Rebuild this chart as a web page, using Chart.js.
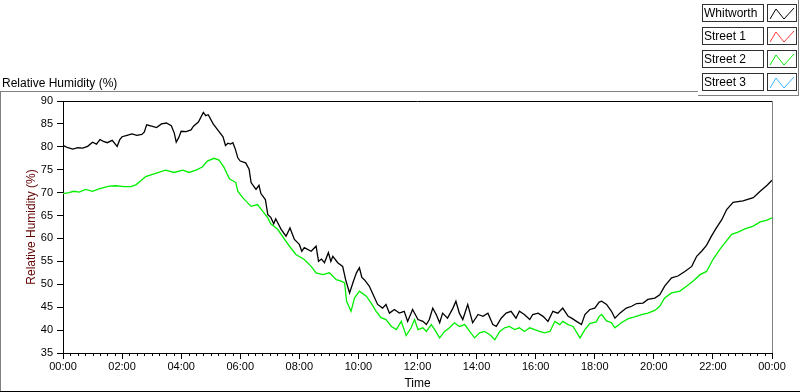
<!DOCTYPE html>
<html>
<head>
<meta charset="utf-8">
<script src="https://cdn.jsdelivr.net/npm/chart.js@4.4.0/dist/chart.umd.min.js"></script>
<style>
  body { margin: 0; background: #fff; font-family: "Liberation Sans", Arial, sans-serif; }
  #wrap { position: relative; width: 800px; height: 392px; overflow: hidden; }
  #chart { position: absolute; left: 0; top: 0; }
  .frame-top { position: absolute; left: 0; top: 91px; width: 698px; height: 1px; background: #808080; }
  .frame-left { position: absolute; left: 0; top: 91px; width: 1px; height: 301px; background: #808080; }
  .frame-bottom { position: absolute; left: 0; top: 391px; width: 800px; height: 1px; background: #000; }
  #plotTitle { position: absolute; left: 2px; top: 76px; font-size: 12px; color: #000; }
  #legend { position: absolute; left: 698px; top: 0; width: 100px; height: 95px;
            border-right: 1px solid #808080; border-bottom: 1px solid #808080; }
  .row { position: absolute; left: 4px; width: 95px; height: 18px; }
  .name { position: absolute; left: 0; top: 0; width: 59px; height: 16px; padding-left: 1px;
          border: 1px solid #303030; font-size: 12px; line-height: 16px; white-space: nowrap; overflow: hidden; }
  .swatch { position: absolute; left: 65px; top: 0; width: 28px; height: 16px; border: 1px solid #303030; }
</style>
</head>
<body>
<div id="wrap">
  <canvas id="chart" width="800" height="392"></canvas>
  <div class="frame-top"></div>
  <div class="frame-left"></div>
  <div class="frame-bottom"></div>
  <div id="plotTitle">Relative Humidity (%)</div>
  <div id="legend"></div>
</div>
<script>
// series names and colours
const seriesNames = ['Whitworth', 'Street 1', 'Street 2', 'Street 3'];
const seriesColors = ['#000000', '#ff3c3c', '#00ee00', '#3cb4ff'];

// y ticks / x ticks
const yTicks = [35, 40, 45, 50, 55, 60, 65, 70, 75, 80, 85, 90];
const xTickHours = ['00:00', '02:00', '04:00', '06:00', '08:00', '10:00', '12:00',
                    '14:00', '16:00', '18:00', '20:00', '22:00', '00:00'];

// Whitworth (black)
const whitworthTime = ['00:00','00:10','00:20','00:30','00:40','00:50','01:00','01:08','01:15','01:22',
  '01:30','01:40','01:50','01:55','02:00','02:10','02:20','02:30','02:40','02:45','02:50','03:00','03:10',
  '03:20','03:30','03:40','03:46','03:50','03:55','04:00','04:10','04:20','04:25','04:35','04:45','04:50',
  '04:55','05:05','05:15','05:25','05:30','05:35','05:40','05:45','05:50','05:55','06:00','06:11','06:18',
  '06:22','06:32','06:38','06:42','06:51','06:56','07:02','07:08','07:12','07:23','07:33','07:41','07:50',
  '08:00','08:05','08:10','08:24','08:34','08:39','08:45','08:51','08:59','09:04','09:08','09:18','09:28',
  '09:34','09:42','09:50','09:56','10:02','10:07','10:12','10:22','10:30','10:39','10:49','10:56','11:03',
  '11:13','11:23','11:33','11:40','11:50','12:01','12:11','12:18','12:24','12:31','12:38','12:45','12:51',
  '13:01','13:12','13:18','13:25','13:32','13:42','13:52','14:03','14:13','14:23','14:33','14:40','14:50',
  '15:00','15:10','15:20','15:27','15:37','15:48','15:54','16:05','16:15','16:25','16:35','16:45','16:55',
  '17:06','17:13','17:23','17:33','17:40','17:50','18:00','18:09','18:14','18:24','18:34','18:41','18:51',
  '19:04','19:15','19:25','19:38','19:48','20:02','20:12','20:22','20:36','20:49','21:03','21:17','21:27',
  '21:37','21:47','21:57','22:07','22:18','22:28','22:41','23:01','23:22','23:36','23:50','24:00'];
const whitworthRH = [80.3,79.8,79.5,79.8,79.7,80.1,81.0,80.6,81.6,81.2,
  80.9,81.4,80.1,81.5,82.2,82.5,82.8,82.5,82.7,83.2,84.8,84.5,84.2,
  85.0,85.2,84.6,83.0,81.0,82.0,83.4,83.3,83.7,84.5,85.4,87.5,86.8,
  87.0,85.0,83.6,82.2,80.3,80.8,80.6,80.9,79.5,77.6,76.9,76.5,75.1,
  72.2,70.7,71.6,69.8,68.5,65.2,64.6,63.2,64.3,62.0,60.5,62.3,59.8,
  58.7,57.2,58.0,57.2,58.3,55.0,55.5,54.7,56.9,55.0,56.1,54.7,53.9,
  51.0,48.1,50.7,52.5,53.6,51.5,51.0,49.6,47.7,45.6,44.8,45.6,43.7,
  44.5,43.7,44.1,41.9,44.5,42.3,41.9,41.2,42.3,44.8,43.4,41.6,43.7,
  42.6,44.8,46.3,43.7,42.3,45.6,41.6,43.4,43.0,43.7,41.2,40.8,42.6,
  43.7,44.1,42.6,44.1,43.4,42.3,43.4,43.7,43.0,41.9,44.1,43.7,44.8,
  43.0,42.6,41.9,41.2,43.4,44.5,44.8,46.1,46.3,45.6,44.1,42.6,43.7,
  44.8,45.2,45.8,45.9,46.7,47.0,47.7,49.6,51.4,51.8,52.8,53.9,56.1,
  57.2,58.5,60.5,62.3,64.1,66.3,67.9,68.2,68.9,70.3,71.6,72.7];

// Street 2 (green)
const street2Time = ['00:00','00:12','00:22','00:33','00:46','01:00','01:13','01:34','01:47','02:04',
  '02:18','02:28','02:38','02:48','03:08','03:28','03:46','04:03','04:16','04:30','04:43','04:53','05:07',
  '05:17','05:27','05:38','05:51','05:55','06:05','06:22','06:35','06:45','06:56','07:02','07:16','07:30',
  '07:40','07:53','08:10','08:24','08:34','08:48','09:01','09:15','09:25','09:32','09:36','09:45','09:52',
  '10:02','10:16','10:26','10:36','10:46','10:56','11:07','11:17','11:27','11:37','11:47','11:54','12:01',
  '12:11','12:18','12:28','12:35','12:45','12:55','13:05','13:15','13:25','13:36','13:46','13:56','14:06',
  '14:16','14:27','14:37','14:47','14:57','15:07','15:17','15:27','15:37','15:48','15:58','16:08','16:18',
  '16:29','16:39','16:49','16:55','17:06','17:16','17:30','17:40','17:50','18:03','18:09','18:14','18:24',
  '18:34','18:41','18:54','19:08','19:21','19:35','19:48','20:02','20:12','20:22','20:36','20:53','21:07',
  '21:20','21:34','21:47','22:00','22:14','22:24','22:38','22:51','23:05','23:22','23:36','23:50','24:00'];
const street2RH = [69.8,70.0,70.3,70.1,70.7,70.3,70.8,71.4,71.5,71.3,
  71.3,71.7,72.6,73.5,74.2,74.9,74.4,74.9,74.4,74.9,75.6,76.9,77.5,
  77.1,75.5,73.0,72.2,70.3,68.9,67.0,67.4,66.0,64.5,63.2,62.0,59.8,
  58.3,56.5,55.4,53.9,52.5,52.1,52.5,51.0,50.7,50.3,46.3,44.1,47.0,
  48.5,47.4,45.9,44.1,42.7,42.3,40.8,40.1,41.9,38.8,40.5,42.3,40.1,
  40.5,39.7,41.2,40.1,38.3,39.7,40.5,41.6,40.8,41.2,39.7,38.3,39.4,
  39.7,39.0,37.9,39.7,40.5,40.8,40.1,40.5,39.7,40.5,40.1,39.7,39.4,
  39.7,41.9,41.2,41.9,41.2,40.8,38.3,40.1,41.4,41.8,43.0,43.4,42.0,
  41.6,40.5,41.6,42.5,42.9,43.4,43.7,44.3,45.2,47.0,48.1,48.5,49.6,
  50.7,52.1,52.8,55.4,57.6,59.0,60.9,61.4,62.1,62.7,63.6,64.0,64.5];

// Street 1 and Street 3 have no samples on this chart
const street1Time = [];
const street1RH = [];
const street3Time = [];
const street3RH = [];

function toMin(t) {
  const p = t.split(':');
  return (+p[0]) * 60 + (+p[1]);
}
function toPoints(times, vals) {
  return times.map((t, i) => ({ x: toMin(t), y: vals[i] }));
}

const seriesData = [
  toPoints(whitworthTime, whitworthRH),
  toPoints(street1Time, street1RH),
  toPoints(street2Time, street2RH),
  toPoints(street3Time, street3RH)
];

// legend boxes
const legend = document.getElementById('legend');
seriesNames.forEach((name, i) => {
  const row = document.createElement('div');
  row.className = 'row';
  row.style.top = (4 + i * 23) + 'px';
  row.innerHTML = '<div class="name">' + name + '</div>' +
    '<svg class="swatch" viewBox="0 0 28 16" width="28" height="16">' +
    '<polyline points="2,14 8,4 16,14 26,3" fill="none" stroke="' + seriesColors[i] + '" stroke-width="1"/></svg>';
  legend.appendChild(row);
});

Chart.defaults.font.family = '"Liberation Sans", Arial, sans-serif';

// plot frame and minor x ticks
const framePlugin = {
  id: 'frame',
  afterDraw(chart) {
    const c = chart.ctx;
    const a = chart.chartArea;
    const xs = chart.scales.x;
    c.save();
    c.lineWidth = 1;
    c.strokeStyle = '#000';
    c.beginPath();
    c.moveTo(a.left, a.top + 0.5);
    c.lineTo(a.right, a.top + 0.5);
    c.stroke();
    c.strokeStyle = '#808080';
    c.beginPath();
    c.moveTo(a.right + 0.5, a.top);
    c.lineTo(a.right + 0.5, a.bottom);
    c.stroke();
    c.strokeStyle = '#000';
    c.beginPath();
    for (let m = 15; m < 1440; m += 15) {
      if (m % 120 === 0) continue;
      const px = Math.round(xs.getPixelForValue(m)) + 0.5;
      c.moveTo(px, a.bottom);
      c.lineTo(px, a.bottom + 3);
    }
    c.stroke();
    c.restore();
  }
};

const ctx = document.getElementById('chart').getContext('2d');
const chart = new Chart(ctx, {
  type: 'line',
  data: {
    datasets: seriesNames.map((name, i) => ({
      label: name,
      data: seriesData[i],
      borderColor: seriesColors[i],
      backgroundColor: seriesColors[i],
      borderWidth: 1.3,
      pointRadius: 0,
      tension: 0,
      fill: false
    }))
  },
  options: {
    responsive: false,
    animation: false,
    layout: { padding: { top: 101, right: 28, left: 0, bottom: 0 } },
    plugins: {
      legend: { display: false },
      tooltip: { enabled: false }
    },
    scales: {
      x: {
        type: 'linear',
        min: 0,
        max: 1440,
        afterFit: function(s) { s.height = 39; },
        afterBuildTicks: function(s) {
          s.ticks = xTickHours.map((h, i) => ({ value: i * 120 }));
        },
        ticks: {
          autoSkip: false,
          maxRotation: 0,
          padding: 1,
          color: '#000',
          font: { size: 11 },
          callback: function(value, index) { return xTickHours[index]; }
        },
        grid: { drawOnChartArea: false, tickLength: 6, color: '#000' },
        border: { color: '#000' },
        title: {
          display: true,
          text: 'Time',
          color: '#000',
          font: { size: 12 },
          padding: { top: 0, bottom: 1 }
        }
      },
      y: {
        min: 35,
        max: 90,
        afterFit: function(s) { s.width = 63; },
        afterBuildTicks: function(s) {
          s.ticks = yTicks.map(v => ({ value: v }));
        },
        ticks: {
          padding: 4,
          color: '#000',
          font: { size: 11 }
        },
        grid: { drawOnChartArea: false, tickLength: 6, color: '#000' },
        border: { color: '#000' },
        title: {
          display: true,
          text: 'Relative Humidity (%)',
          color: '#600000',
          font: { size: 12 },
          padding: { top: 24, bottom: 0 }
        }
      }
    }
  },
  plugins: [framePlugin]
});
</script>
</body>
</html>
